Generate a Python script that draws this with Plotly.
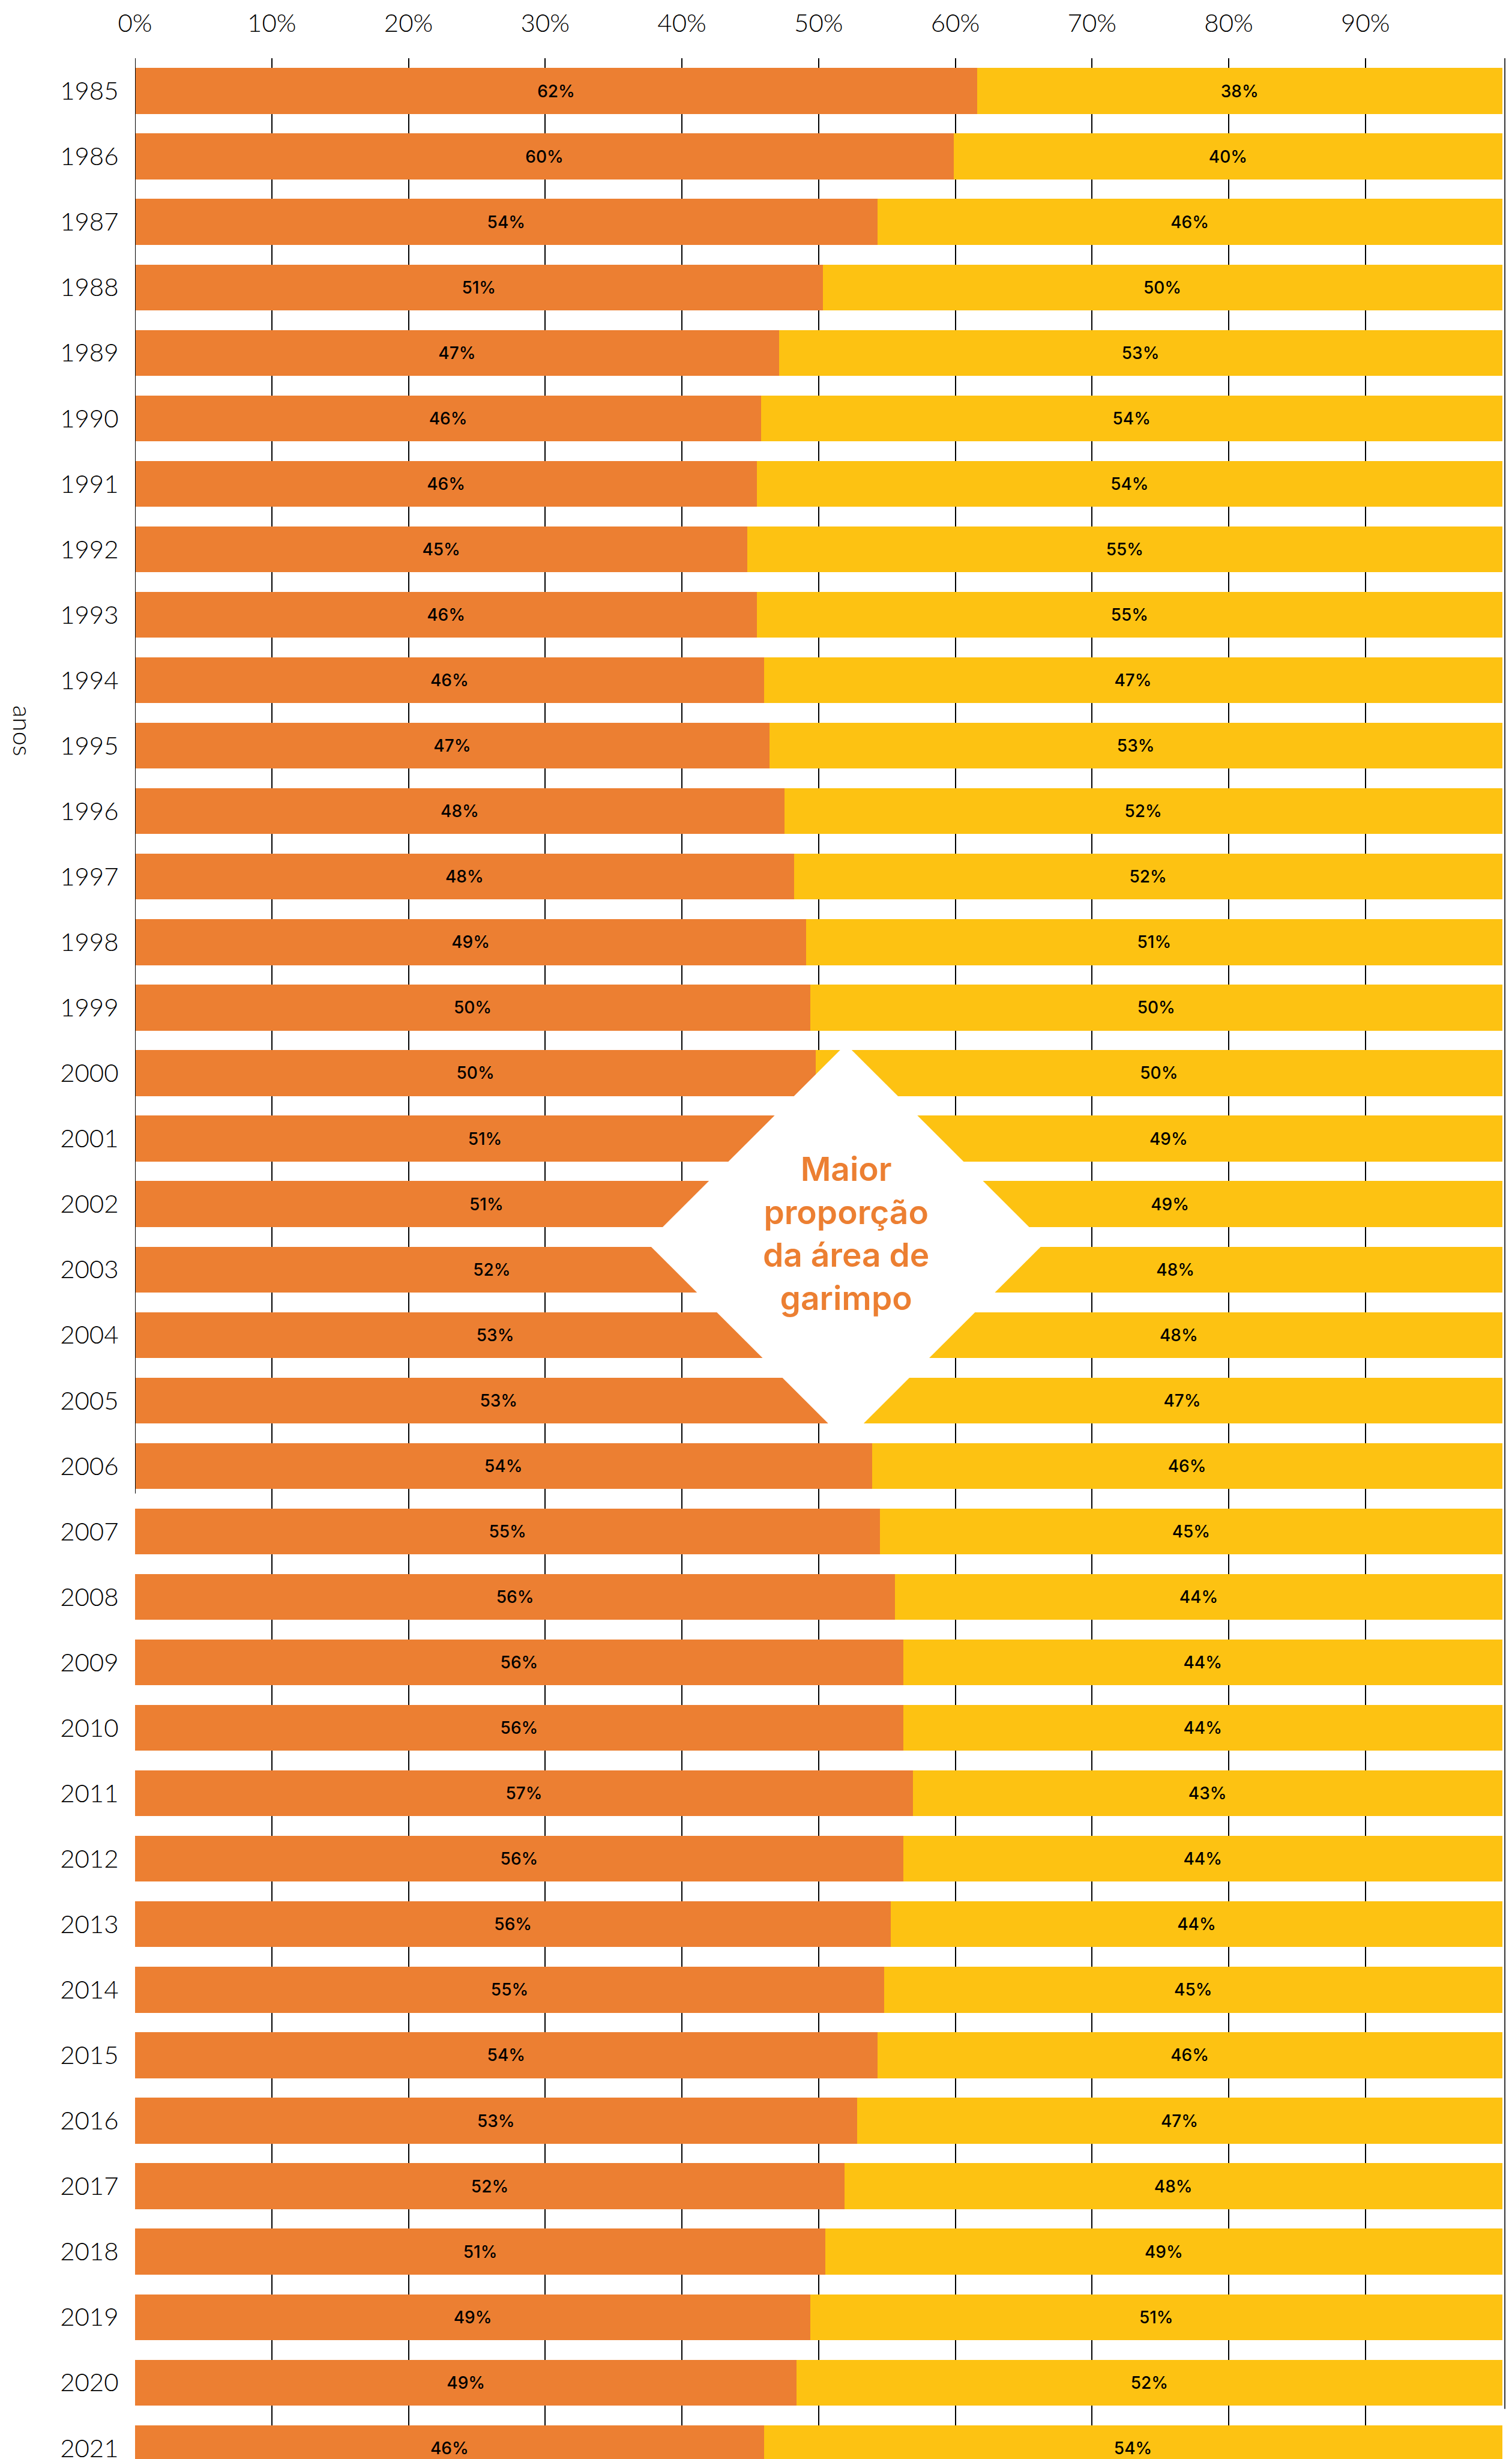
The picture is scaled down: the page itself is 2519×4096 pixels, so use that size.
import plotly.graph_objects as go

# ---------------- data ----------------
years = [str(y) for y in range(1985, 2022)]

# share (%) of the orange segment
orange_share = [61.6, 59.9, 54.3, 50.3, 47.1, 45.8, 45.5, 44.8, 45.5, 46.0,
                46.4, 47.5, 48.2, 49.1, 49.4, 49.8, 51.2, 51.4, 52.2, 52.7,
                53.2, 53.9, 54.5, 55.6, 56.2, 56.2, 56.9, 56.2, 55.3, 54.8,
                54.3, 52.8, 51.9, 50.5, 49.4, 48.4, 46.0]
yellow_share = [round(100 - v, 1) for v in orange_share]

# labels exactly as printed on the bars
orange_labels = [62, 60, 54, 51, 47, 46, 46, 45, 46, 46, 47, 48, 48, 49, 50, 50,
                 51, 51, 52, 53, 53, 54, 55, 56, 56, 56, 57, 56, 56, 55, 54, 53,
                 52, 51, 49, 49, 46]
yellow_labels = [38, 40, 46, 50, 53, 54, 54, 55, 55, 47, 53, 52, 52, 51, 50, 50,
                 49, 49, 48, 48, 47, 46, 45, 44, 44, 44, 43, 44, 44, 45, 46, 47,
                 48, 49, 51, 52, 54]

x_tick_vals = [0, 10, 20, 30, 40, 50, 60, 70, 80, 90]
x_tick_text = [f"{v}%" for v in x_tick_vals]

axis_title = "anos"
callout_text = "Maior<br>proporção<br>da área de<br>garimpo"

# ---------------- style ----------------
ORANGE = "#EC7F32"
YELLOW = "#FDC212"
FONT = "Inter"
LIGHT_FONT = "'Lato Light', 'Inter Light', Inter"

W, H = 2519, 4096
ML, MR, MT = 217, 14, 89

fig = go.Figure()
fig.add_trace(go.Bar(
    y=years, x=orange_share, orientation="h",
    marker=dict(color=ORANGE, line=dict(width=0)),
    text=[f"{v}%" for v in orange_labels],
    textposition="inside", insidetextanchor="middle", textangle=0,
    textfont=dict(family=FONT, size=28, color="#000000", weight=500),
    hoverinfo="skip", cliponaxis=True,
))
fig.add_trace(go.Bar(
    y=years, x=yellow_share, orientation="h",
    marker=dict(color=YELLOW, line=dict(width=0)),
    text=[f"{v}%" for v in yellow_labels],
    textposition="inside", insidetextanchor="middle", textangle=0,
    textfont=dict(family=FONT, size=28, color="#000000", weight=500),
    hoverinfo="skip", cliponaxis=True,
))

y_bottom = 36.24

# diamond callout
cx, cy = 52.0, 17.59
hw, hh = 14.55, 3.03
diamond = (f"M {cx-hw},{cy} L {cx},{cy-hh} L {cx+hw},{cy} L {cx},{cy+hh} Z")

plot_w = W - ML - MR
plot_h = H - MT

fig.update_layout(
    width=W, height=H,
    margin=dict(l=ML, r=MR, t=MT, b=0, pad=0),
    paper_bgcolor="white", plot_bgcolor="white",
    barmode="stack", bargap=0.30,
    showlegend=False,
    font=dict(family=FONT, color="#000000"),
    xaxis=dict(
        side="top", range=[0, 100.46], automargin=False,
        tickmode="array", tickvals=x_tick_vals, ticktext=x_tick_text,
        tickfont=dict(family=LIGHT_FONT, size=42, color="#000000", weight=300),
        ticks="outside", ticklen=26, tickcolor="rgba(0,0,0,0)",
        showgrid=True, gridcolor="#000000", gridwidth=2,
        zeroline=True, zerolinecolor="rgba(0,0,0,0)",
        showline=False, fixedrange=True,
    ),
    yaxis=dict(
        type="category", range=[y_bottom, -0.5], automargin=False,
        tickfont=dict(family=LIGHT_FONT, size=42, color="#000000", weight=300),
        ticks="outside", ticklen=18, tickcolor="rgba(0,0,0,0)",
        showgrid=False, zeroline=False, showline=False, fixedrange=True,
    ),
    shapes=[
        dict(type="line", xref="x", yref="y", x0=0, x1=0, y0=-0.5, y1=21.42,
             line=dict(color="#000000", width=2), layer="above"),
        dict(type="line", xref="x", yref="y", x0=100.2, x1=100.2, y0=-0.5, y1=35.4,
             line=dict(color="#333333", width=2), layer="above"),
        dict(type="path", xref="x", yref="y", path=diamond,
             fillcolor="white", line=dict(width=0), layer="above"),
    ],
    annotations=[
        dict(text=callout_text, xref="x", yref="y", x=cx, y=17.45,
             showarrow=False, align="center",
             font=dict(family=FONT, size=55, color=ORANGE, weight=600)),
        dict(text=axis_title, xref="paper", yref="paper",
             x=(30 - ML) / plot_w, xanchor="center",
             y=1 - (1209 - MT) / plot_h, yanchor="middle",
             textangle=90, showarrow=False,
             font=dict(family=LIGHT_FONT, size=42, color="#000000", weight=300)),
    ],
)

fig.write_html("out.html")
